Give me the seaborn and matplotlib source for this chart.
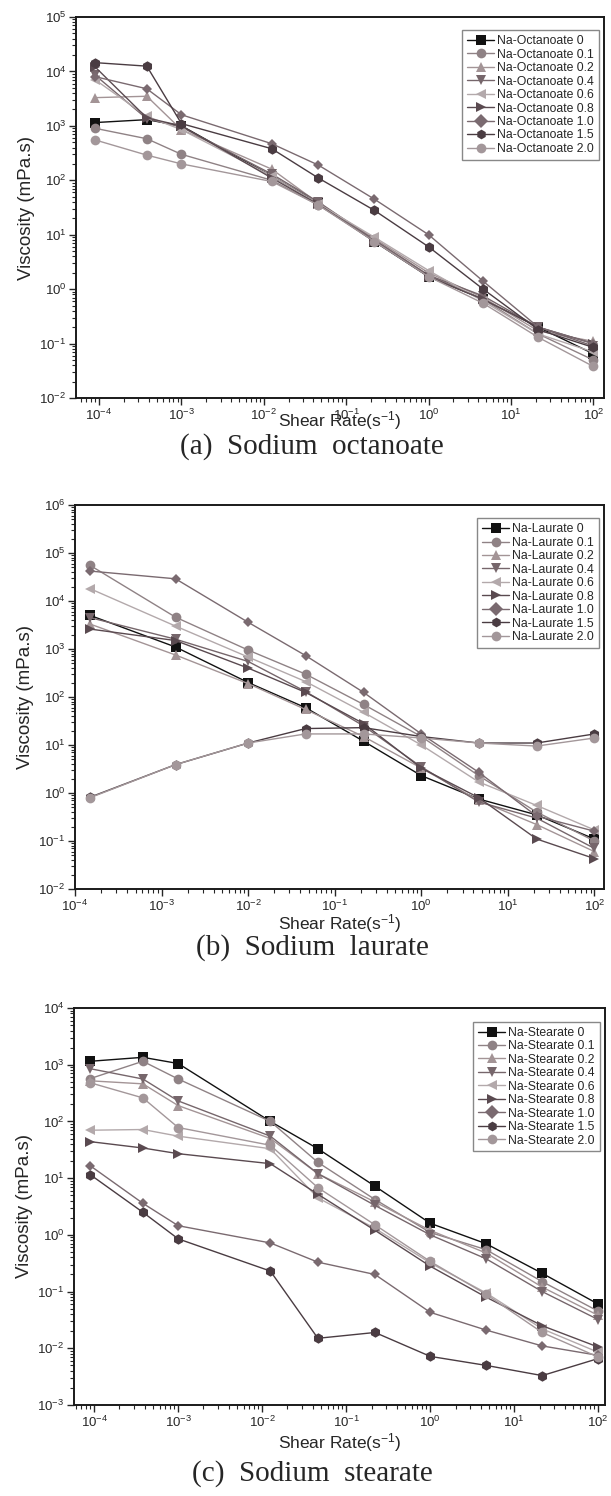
import numpy as np
import pandas as pd
import matplotlib
matplotlib.use("Agg")
import matplotlib.pyplot as plt
import seaborn as sns
from matplotlib.ticker import LogLocator, FixedLocator, NullFormatter

# ---------------- data ----------------
levels = ["0", "0.1", "0.2", "0.4", "0.6", "0.8", "1.0", "1.5", "2.0"]

shear_a = [9e-5, 3.8e-4, 1e-3, 1.25e-2, 4.6e-2, 0.22, 1.0, 4.6, 21.5, 100]
oct_0   = [1150, 1300, 1000, 120, 38, 7.5, 1.7, 0.65, 0.20, 0.065]
oct_01  = [900, 580, 300, 100, 35, 8.0, 1.8, 0.65, 0.15, 0.050]
oct_02  = [3300, 3500, 850, 160, 38, 8.5, 2.0, 0.70, 0.17, 0.11]
oct_04  = [8500, 1350, 950, 130, 40, 8.0, 1.8, 0.75, 0.20, 0.09]
oct_06  = [7000, 1500, 850, 120, 37, 9.0, 2.2, 0.60, 0.15, 0.07]
oct_08  = [12000, 1400, 1000, 110, 36, 7.5, 1.7, 0.65, 0.20, 0.10]
oct_10  = [8000, 4800, 1600, 470, 190, 45, 10, 1.4, 0.20, 0.10]
oct_15  = [14500, 12500, 1100, 380, 110, 28, 6.0, 1.0, 0.18, 0.085]
oct_20  = [550, 290, 200, 95, 35, 7.5, 1.7, 0.55, 0.13, 0.038]

shear_b = [1.5e-4, 1.45e-3, 1e-2, 4.6e-2, 0.215, 1.0, 4.6, 21.5, 100]
lau_0   = [5000, 1100, 200, 60, 12, 2.3, 0.75, 0.35, 0.11]
lau_01  = [55000, 4600, 950, 300, 70, 15, 2.3, 0.40, 0.10]
lau_02  = [3300, 750, 190, 55, 15, 3.3, 0.70, 0.22, 0.06]
lau_04  = [4500, 1600, 550, 130, 25, 3.5, 0.65, 0.30, 0.07]
lau_06  = [18000, 3000, 680, 210, 48, 10, 1.7, 0.55, 0.17]
lau_08  = [2600, 1500, 400, 125, 28, 3.3, 0.80, 0.11, 0.043]
lau_10  = [42000, 29000, 3600, 730, 125, 17, 2.7, 0.33, 0.16]
lau_15  = [0.82, 3.9, 11, 22, 23, 15, 11, 11, 17]
lau_20  = [0.80, 3.9, 11, 17, 17, 14, 11, 9.5, 14]

shear_c = [9e-5, 3.8e-4, 1e-3, 1.25e-2, 4.6e-2, 0.22, 1.0, 4.6, 21.5, 100]
ste_0   = [1150, 1350, 1050, 100, 33, 7.2, 1.6, 0.70, 0.21, 0.060]
ste_01  = [570, 1150, 560, 100, 19, 4.2, 1.1, 0.55, 0.15, 0.045]
ste_02  = [520, 460, 190, 50, 12, 3.8, 1.2, 0.48, 0.12, 0.038]
ste_04  = [850, 560, 230, 55, 12, 3.3, 1.0, 0.38, 0.10, 0.032]
ste_06  = [70, 72, 55, 33, 4.5, 1.3, 0.32, 0.095, 0.022, 0.0085]
ste_08  = [44, 34, 27, 18, 5.2, 1.2, 0.28, 0.080, 0.025, 0.0105]
ste_10  = [16.5, 3.6, 1.45, 0.72, 0.33, 0.20, 0.043, 0.021, 0.011, 0.0075]
ste_15  = [11.5, 2.5, 0.85, 0.23, 0.015, 0.019, 0.0072, 0.0050, 0.0033, 0.0066]
ste_20  = [480, 260, 78, 38, 6.8, 1.5, 0.34, 0.090, 0.019, 0.0070]

panels = [
    ("Na-Octanoate", shear_a, [oct_0, oct_01, oct_02, oct_04, oct_06, oct_08, oct_10, oct_15, oct_20],
     (-4.28, 2.13), (-2, 5), "(a)  Sodium  octanoate"),
    ("Na-Laurate", shear_b, [lau_0, lau_01, lau_02, lau_04, lau_06, lau_08, lau_10, lau_15, lau_20],
     (-4.0, 2.11), (-2, 6), "(b)  Sodium  laurate"),
    ("Na-Stearate", shear_c, [ste_0, ste_01, ste_02, ste_04, ste_06, ste_08, ste_10, ste_15, ste_20],
     (-4.24, 2.08), (-3, 4), "(c)  Sodium  stearate"),
]

# ---------------- style ----------------
colors = ["#111111", "#8f8285", "#a39496", "#76666b", "#b3a9ab",
          "#5a4a50", "#7a6a70", "#4a3c42", "#a3979a"]
marks = ["s", "o", "^", "v", "<", ">", "D", "h", "o"]
msizes = [6.5, 7, 7, 7, 7, 7, 5.5, 7.5, 7]

sns.set_style("ticks")
plt.rcParams["font.family"] = ["Liberation Sans", "DejaVu Sans"]
plt.rcParams["mathtext.default"] = "regular"

W, H = 611, 1496
fig = plt.figure(figsize=(W / 100, H / 100), dpi=100)

# axes frames in pixels: (left, top, right, bottom)
frames = [(76, 17, 604, 398), (75, 505, 604, 889), (74, 1008, 605, 1405)]
xlabel_y = [421, 924, 1443]
caption_y = [447, 948, 1474]

for (name, shear, series, xl, yl, caption), (l, t, r, b), xly, cy in zip(panels, frames, xlabel_y, caption_y):
    ax = fig.add_axes([l / W, 1 - b / H, (r - l) / W, (b - t) / H])
    labels = [f"{name} {lv}" for lv in levels]
    df = pd.concat([pd.DataFrame({"shear": shear, "visc": v, "series": lab})
                    for v, lab in zip(series, labels)], ignore_index=True)
    pal = dict(zip(labels, colors))
    mk = dict(zip(labels, marks))
    sns.lineplot(data=df, x="shear", y="visc", hue="series", style="series",
                 hue_order=labels, style_order=labels, palette=pal, markers=mk,
                 dashes=False, estimator=None, sort=False, linewidth=1.0,
                 markersize=7, markeredgewidth=0, ax=ax)
    for line, ms in zip(ax.lines, msizes):
        line.set_markersize(ms)
    ax.set_xscale("log")
    ax.set_yscale("log")
    ax.set_xlim(10 ** xl[0], 10 ** xl[1])
    ax.set_ylim(10 ** yl[0], 10 ** yl[1])
    xdec = np.arange(int(np.ceil(xl[0])), int(np.floor(xl[1])) + 1)
    ydec = np.arange(yl[0], yl[1] + 1)
    ax.xaxis.set_major_locator(FixedLocator(10.0 ** xdec))
    ax.yaxis.set_major_locator(FixedLocator(10.0 ** ydec))
    ax.xaxis.set_minor_locator(LogLocator(base=10, subs=np.arange(2, 10), numticks=100))
    ax.yaxis.set_minor_locator(LogLocator(base=10, subs=np.arange(2, 10), numticks=100))
    ax.xaxis.set_minor_formatter(NullFormatter())
    ax.yaxis.set_minor_formatter(NullFormatter())
    ax.tick_params(which="major", direction="out", length=5, width=1.0,
                   labelsize=9.5, top=False, right=False, pad=2)
    ax.tick_params(which="minor", direction="out", length=3, width=0.8,
                   top=False, right=False)
    for sp in ax.spines.values():
        sp.set_visible(True)
        sp.set_linewidth(1.4)
        sp.set_color("#1a1a1a")
    ax.set_xlabel("")
    ax.xaxis.label.set_visible(False)
    ax.set_ylabel("Viscosity (mPa.s)", fontsize=13.5, labelpad=3)
    fig.text((l + r) / 2 / W, 1 - xly / H, "Shear Rate(s$^{-1}$)", fontsize=12.5,
             ha="center", va="center")
    fig.text(312 / W, 1 - cy / H, caption, fontsize=21, ha="center", va="center",
             family=["Liberation Serif", "DejaVu Serif"])
    sns.move_legend(ax, "upper right", title=None, fontsize=8.8, frameon=True,
                    bbox_to_anchor=(0.99, 0.965), borderaxespad=0.0,
                    handlelength=2.2, handletextpad=0.25, labelspacing=0.12,
                    borderpad=0.4, fancybox=False, edgecolor="#888888",
                    framealpha=1.0)
    ax.get_legend().get_frame().set_linewidth(1.0)

fig.savefig("out.png", dpi=100)
